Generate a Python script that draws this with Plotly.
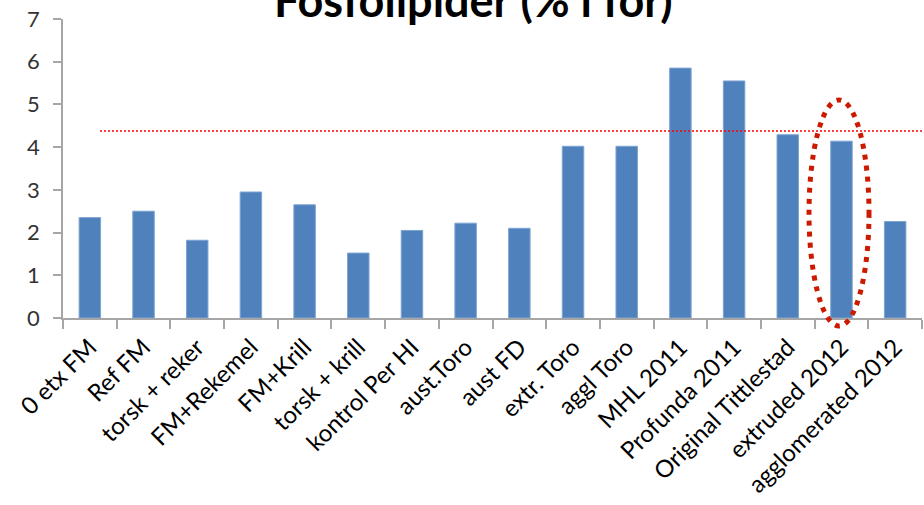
import plotly.graph_objects as go

categories = ["0 etx FM", "Ref FM", "torsk + reker", "FM+Rekemel", "FM+Krill",
              "torsk + krill", "kontrol Per HI", "aust.Toro", "aust FD", "extr. Toro",
              "aggl Toro", "MHL 2011", "Profunda 2011", "Original Tittlestad",
              "extruded 2012", "agglomerated 2012"]
values = [2.35, 2.5, 1.82, 2.95, 2.65, 1.52, 2.05, 2.22, 2.1, 4.02,
          4.02, 5.85, 5.55, 4.29, 4.14, 2.26]
reference_level = 4.38
y_ticks = [0, 1, 2, 3, 4, 5, 6, 7]
title_text = "Fosfolipider (% i fôr)"

FONT = "Lato"

fig = go.Figure()
fig.add_trace(go.Bar(
    x=categories, y=values,
    marker=dict(color="#4F81BD", line=dict(color="#7FA3D1", width=1)),
    hoverinfo="x+y",
))

fig.update_layout(
    width=924, height=505,
    margin=dict(l=63, r=2, t=19, b=187),
    paper_bgcolor="white", plot_bgcolor="white",
    bargap=0.6,
    showlegend=False,
    font=dict(family=FONT, size=20, color="#000000"),
)
fig.update_xaxes(
    type="category", automargin=False,
    tickangle=-45,
    showline=True, linecolor="#A6A6A6", linewidth=1.5,
    ticks="outside", ticklen=9, tickcolor="#A6A6A6", tickwidth=1.5,
    tickson="boundaries", ticklabelstandoff=4,
    showgrid=False,
    tickfont=dict(family=FONT, size=24, color="#000000"),
)
fig.update_yaxes(
    range=[0, 7], tickvals=y_ticks, automargin=False,
    showline=True, linecolor="#A6A6A6", linewidth=1.5,
    ticks="outside", ticklen=8, tickcolor="#A6A6A6", tickwidth=1.5,
    ticklabelstandoff=9,
    showgrid=False, zeroline=False,
    tickfont=dict(family=FONT, size=22, color="#333333"),
)

# reference dotted line
fig.add_shape(type="line", xref="paper", yref="y",
              x0=(100 - 63) / 859, x1=1.01, y0=reference_level, y1=reference_level,
              line=dict(color="#FF0000", width=1.5, dash="2px,2px"))

# highlight ellipse around "extruded 2012"
fig.add_shape(type="circle", xref="paper", yref="paper",
              x0=(809 - 63) / 859, x1=(869 - 63) / 859,
              y0=(318 - 326) / 299, y1=(318 - 100) / 299,
              line=dict(color="#CC1A00", width=5, dash="5px,6px"))

# title (partially cut at the top, as in the reference)
fig.add_annotation(text="<b>" + title_text + "</b>", xref="paper", yref="paper",
                   x=(473 - 63) / 859, y=1, yanchor="bottom", xanchor="center",
                   yshift=-10, showarrow=False,
                   font=dict(family=FONT, size=45, color="#000000"))

fig.write_html("out.html",
               config={"displayModeBar": False},
               post_script="document.body.style.margin='0';document.body.style.padding='0';")
